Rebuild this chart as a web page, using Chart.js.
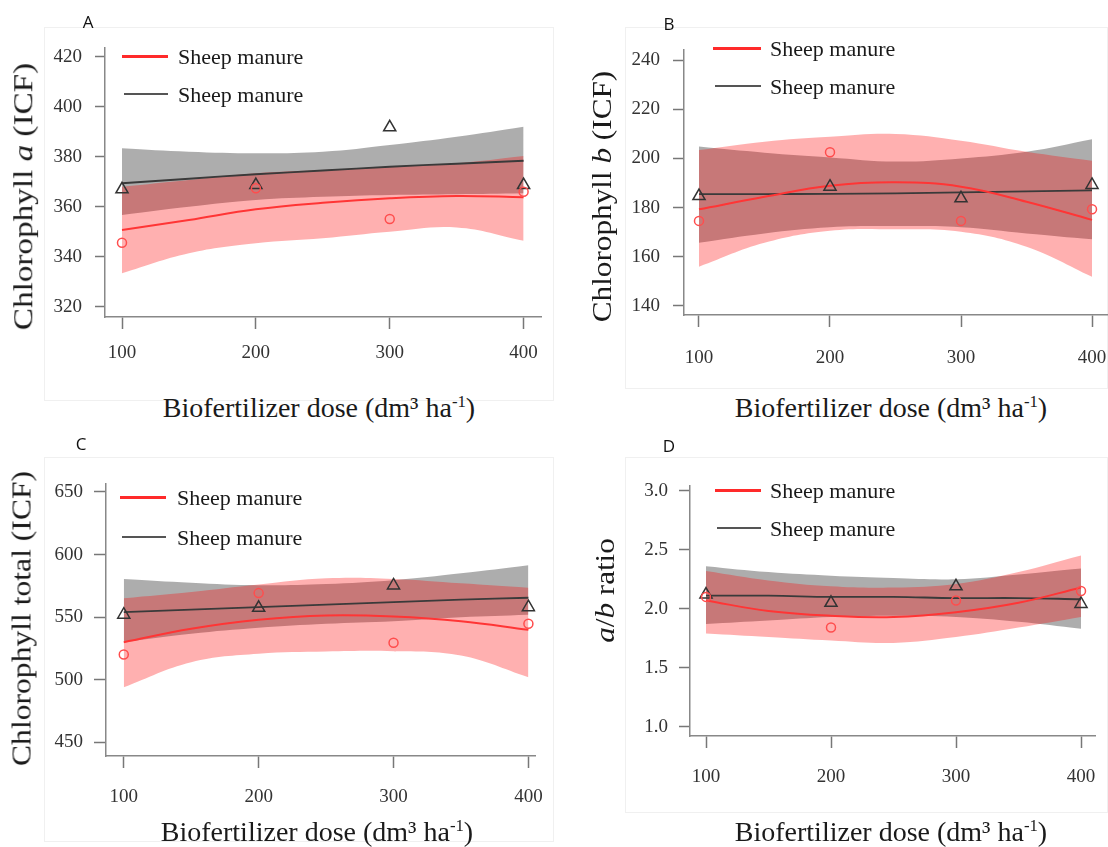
<!DOCTYPE html>
<html>
<head>
<meta charset="utf-8">
<script src="https://cdn.jsdelivr.net/npm/chart.js@4.4.1/dist/chart.umd.min.js"></script>
<style>
  html, body { margin: 0; padding: 0; background: #fff; overflow: hidden; }
  body { width: 1108px; height: 847px; position: relative; color: #1a1a1a; }
  canvas { position: absolute; }
  .serif { font-family: "Liberation Serif", "Times New Roman", Times, "DejaVu Serif", serif; }
  .frame { position: absolute; border: 1px solid #f0f0f0; box-sizing: border-box; }
  .letter { position: absolute; font-family: "Open Sans", sans-serif; font-size: 17px; color: #111; transform: translate(-50%, -50%); }
  .leg-line { position: absolute; height: 0; }
  .leg-text { position: absolute; font-size: 22px; white-space: nowrap; transform: translateY(-50%); line-height: 1; }
  .xt { position: absolute; font-size: 28px; white-space: nowrap; transform: translate(-50%, -50%); line-height: 1; }
  .yt { position: absolute; font-size: 27px; white-space: nowrap; line-height: 1; }
  sup { font-size: 60%; vertical-align: 0.6em; line-height: 0; }
</style>
</head>
<body>
<div class="frame" style="left:44px;top:27px;width:510px;height:374px"></div>
<div class="frame" style="left:625px;top:27px;width:483px;height:362px"></div>
<div class="frame" style="left:44px;top:457px;width:510px;height:385px"></div>
<div class="frame" style="left:625px;top:457px;width:483px;height:356px"></div>

<script>
// doses on the x axis, and the x positions where the fitted curves / bands were read
const doses = [100, 200, 300, 400];
const fitDoses = [100, 150, 200, 250, 300, 350, 400];

// A - chlorophyll a
const aTicksY = [320, 340, 360, 380, 400, 420];
const aCircle = [345.6, 367.4, 355.1, 366];
const aTri = [367, 368.7, 391.8, 368.7];
const aRedFit = [350.7, 354.7, 359, 361.6, 363.4, 364.3, 363.8];
const aRedUp = [368, 370.7, 373.4, 374.7, 376, 377.4, 380.3];
const aRedLow = [333.4, 341.4, 345.4, 347.4, 350, 351.7, 346.4];
const aGrayFit = [369.4, 371.2, 373, 374.5, 376, 377.2, 378.4];
const aGrayUp = [383.4, 382, 381.4, 382, 384.7, 388, 392];
const aGrayLow = [356.7, 360, 362.7, 364, 364.7, 365, 365.4];

// B - chlorophyll b
const bTicksY = [140, 160, 180, 200, 220, 240];
const bCircle = [174.6, 202.5, 174.6, 179.3];
const bTri = [184.7, 188.5, 183.8, 189.2];
const bRedFit = [179.3, 184.4, 188.9, 190.3, 188.5, 182.4, 175];
const bRedUp = [203.4, 206.8, 208.8, 209.9, 207.2, 202.7, 199];
const bRedLow = [156, 165.7, 170.6, 171.2, 170.2, 164.1, 151.9];
const bGrayFit = [185.5, 185.5, 185.6, 185.8, 186.2, 186.6, 187];
const bGrayUp = [204.8, 202.3, 200.4, 198.7, 200, 202.7, 207.8];
const bGrayLow = [165.7, 169.5, 172, 172.5, 172, 169.5, 167.1];

// C - total chlorophyll
const cTicksY = [450, 500, 550, 600, 650];
const cCircle = [520.1, 569.2, 529.5, 544.7];
const cTri = [552, 557.5, 575.3, 558];
const cRedFit = [530, 540.7, 547.9, 551.3, 550.5, 546.8, 539.9];
const cRedUp = [565, 570, 576, 581, 580.5, 577, 573.5];
const cRedLow = [494, 514, 520.7, 522.5, 522.8, 519.3, 502];
const cGrayFit = [554, 556, 558, 560, 562, 564, 565.5];
const cGrayUp = [580.5, 577.5, 575.5, 576.5, 579.5, 585, 591.5];
const cGrayLow = [530, 536.7, 541.5, 544.7, 546.8, 550, 552];

// D - a/b ratio
const dTicksY = [1.0, 1.5, 2.0, 2.5, 3.0];
const dCircle = [2.10, 1.84, 2.07, 2.15];
const dTri = [2.12, 2.05, 2.19, 2.04];
const dRedFit = [2.07, 1.98, 1.94, 1.93, 1.97, 2.05, 2.18];
const dRedUp = [2.32, 2.24, 2.19, 2.18, 2.21, 2.31, 2.45];
const dRedLow = [1.79, 1.76, 1.73, 1.71, 1.76, 1.84, 1.93];
const dGrayFit = [2.11, 2.11, 2.10, 2.10, 2.09, 2.09, 2.08];
const dGrayUp = [2.36, 2.31, 2.28, 2.26, 2.25, 2.29, 2.34];
const dGrayLow = [1.87, 1.90, 1.93, 1.94, 1.93, 1.89, 1.83];

const legendLabel = "Sheep manure";
const xTitle = "Biofertilizer dose (dm³ ha<sup>-1</sup>)";
const serifStack = "'Liberation Serif', 'Times New Roman', Times, 'DejaVu Serif', serif";

const panels = [
  { letter: "A", letterAt: [88, 21], area: [105, 48, 541, 317], xr: [87.3, 413], yr: [315.9, 423.5],
    yTicks: aTicksY, dec: 0, xPad: 13, yTick: 10, yPad: 13,
    circle: aCircle, tri: aTri, redFit: aRedFit, redUp: aRedUp, redLow: aRedLow,
    grayFit: aGrayFit, grayUp: aGrayUp, grayLow: aGrayLow,
    leg: [122, 168, 56, 94, 178], xt: [319, 408], yt: ["Chlorophyll <i>a</i> (ICF)", 24, 196, 268] },
  { letter: "B", letterAt: [669, 23], area: [684, 50, 1107, 315], xr: [88.55, 411.45], yr: [136.34, 244.07],
    yTicks: bTicksY, dec: 0, xPad: 20, yTick: 11, yPad: 13,
    circle: bCircle, tri: bTri, redFit: bRedFit, redUp: bRedUp, redLow: bRedLow,
    grayFit: bGrayFit, grayUp: bGrayUp, grayLow: bGrayLow,
    leg: [713, 761, 48, 86, 770], xt: [891, 408], yt: ["Chlorophyll <i>b</i> (ICF)", 603, 196, 252] },
  { letter: "C", letterAt: [81, 443], area: [106, 484, 541, 756], xr: [86.82, 405.42], yr: [439.05, 656.39],
    yTicks: cTicksY, dec: 0, xPad: 18, yTick: 12, yPad: 11,
    circle: cCircle, tri: cTri, redFit: cRedFit, redUp: cRedUp, redLow: cRedLow,
    grayFit: cGrayFit, grayUp: cGrayUp, grayLow: cGrayLow,
    leg: [120, 166, 497, 537, 177], xt: [317, 832], yt: ["Chlorophyll total (ICF)", 22, 618, 295] },
  { letter: "D", letterAt: [669, 445], area: [690, 486, 1095, 736], xr: [87.2, 411.2], yr: [0.9212, 3.0398],
    yTicks: dTicksY, dec: 1, xPad: 18, yTick: 11, yPad: 11,
    circle: dCircle, tri: dTri, redFit: dRedFit, redUp: dRedUp, redLow: dRedLow,
    grayFit: dGrayFit, grayUp: dGrayUp, grayLow: dGrayLow,
    leg: [715, 761, 490, 528, 770], xt: [891, 832], yt: ["<i>a</i>/<i>b</i> ratio", 605, 590, 105] }
];

function pts(xs, ys) { return xs.map((x, i) => ({ x: x, y: ys[i] })); }

function addDiv(cls, html, style) {
  const d = document.createElement("div");
  d.className = cls;
  d.innerHTML = html;
  Object.assign(d.style, style);
  document.body.appendChild(d);
  return d;
}

function drawPanel(p) {
  const [L, T, R, B] = p.area;
  const c = document.createElement("canvas");
  c.width = R - L + 90;
  c.height = B - T + 90;
  c.style.left = (L - 70) + "px";
  c.style.top = (T - 30) + "px";
  document.body.appendChild(c);

  const tickFont = { family: serifStack, size: 19 };
  const band = { borderColor: "transparent", borderWidth: 1, pointRadius: 0, tension: 0.4 };

  new Chart(c, {
    type: "line",
    data: {
      datasets: [
        Object.assign({ data: pts(fitDoses, p.grayLow), fill: false, order: 10 }, band),
        Object.assign({ data: pts(fitDoses, p.grayUp), fill: "-1", backgroundColor: "rgba(0,0,0,0.32)", order: 9 }, band),
        Object.assign({ data: pts(fitDoses, p.redLow), fill: false, order: 8 }, band),
        Object.assign({ data: pts(fitDoses, p.redUp), fill: "-1", backgroundColor: "rgba(255,0,0,0.31)", order: 7 }, band),
        { data: pts(fitDoses, p.grayFit), borderColor: "#3a3a3a", borderWidth: 1.8, pointRadius: 0, tension: 0.4, fill: false, order: 4 },
        { data: pts(fitDoses, p.redFit), borderColor: "#ff3535", borderWidth: 2, pointRadius: 0, tension: 0.4, fill: false, order: 3 },
        { data: pts(doses, p.tri), showLine: false, pointStyle: "triangle", pointRadius: 7,
          pointBorderColor: "#333", pointBackgroundColor: "rgba(0,0,0,0)", pointBorderWidth: 1.5, order: 2 },
        { data: pts(doses, p.circle), showLine: false, pointStyle: "circle", pointRadius: 4.5,
          pointBorderColor: "#ff4d4d", pointBackgroundColor: "rgba(0,0,0,0)", pointBorderWidth: 1.5, order: 1 }
      ]
    },
    options: {
      responsive: false,
      animation: false,
      devicePixelRatio: 1,
      layout: { padding: { left: 0, top: 30, right: 20, bottom: 0 } },
      plugins: { legend: { display: false }, tooltip: { enabled: false } },
      scales: {
        x: {
          type: "linear", min: p.xr[0], max: p.xr[1],
          afterBuildTicks: s => { s.ticks = doses.map(v => ({ value: v })); },
          afterFit: s => { s.height = 60; },
          grid: { display: true, drawOnChartArea: false, drawTicks: true, tickLength: 12, tickColor: "#777", tickWidth: 1.5 },
          border: { display: true, color: "#888", width: 1.5 },
          ticks: { padding: p.xPad, color: "#333", font: tickFont, maxRotation: 0, autoSkip: false }
        },
        y: {
          type: "linear", min: p.yr[0], max: p.yr[1],
          afterBuildTicks: s => { s.ticks = p.yTicks.map(v => ({ value: v })); },
          afterFit: s => { s.width = 70; },
          grid: { display: true, drawOnChartArea: false, drawTicks: true, tickLength: p.yTick, tickColor: "#777", tickWidth: 1.5 },
          border: { display: true, color: "#888", width: 1.5 },
          ticks: { padding: p.yPad, color: "#333", font: tickFont, autoSkip: false,
                   callback: v => p.dec ? v.toFixed(p.dec) : String(v) }
        }
      }
    }
  });

  // panel letter
  addDiv("letter", p.letter, { left: p.letterAt[0] + "px", top: p.letterAt[1] + "px" });

  // legend
  const [x1, x2, yRed, yGray, tx] = p.leg;
  addDiv("leg-line", "", { left: x1 + "px", top: (yRed - 1.5) + "px", width: (x2 - x1) + "px", borderTop: "3px solid #ff2a2a" });
  addDiv("leg-line", "", { left: (x1 + 2) + "px", top: (yGray - 1) + "px", width: (x2 - x1 - 2) + "px", borderTop: "2px solid #555" });
  addDiv("leg-text serif", legendLabel, { left: tx + "px", top: (yRed + 1) + "px" });
  addDiv("leg-text serif", legendLabel, { left: tx + "px", top: (yGray + 1) + "px" });

  // axis titles
  addDiv("xt serif", xTitle, { left: p.xt[0] + "px", top: p.xt[1] + "px" });
  const [html, cx, cy, len] = p.yt;
  const d = addDiv("yt serif", html, {});
  const w = d.offsetWidth, h = d.offsetHeight;
  d.style.left = (cx - w / 2) + "px";
  d.style.top = (cy - h / 2) + "px";
  d.style.transform = "rotate(-90deg) scaleX(" + (len / w).toFixed(3) + ")";
}

panels.forEach(drawPanel);
</script>
</body>
</html>
